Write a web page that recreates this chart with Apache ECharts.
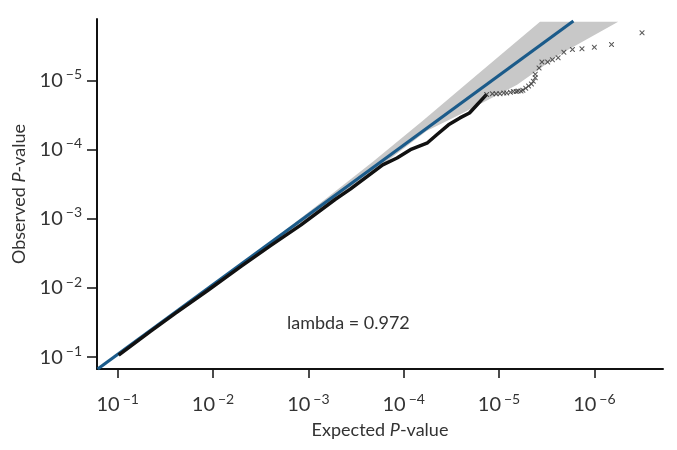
<!DOCTYPE html>
<html>
<head>
<meta charset="utf-8">
<script src="https://cdn.jsdelivr.net/npm/echarts@6/dist/echarts.min.js"></script>
<style>
html,body{margin:0;padding:0;background:#fff;}
#chart{width:677px;height:450px;}
</style>
</head>
<body>
<div id="chart"></div>
<script>
// -log10(P) values
const xTicks = [1, 2, 3, 4, 5, 6];
const yTicks = [1, 2, 3, 4, 5];

// identity (expected = observed) line
const lineX = [0.79, 5.78];
const lineY = [0.83, 5.86];

// confidence band edges
const bandUpperX = [2.6, 3.2, 3.68, 4.2, 4.68, 5.05, 5.43];
const bandUpperY = [2.67, 3.31, 3.83, 4.42, 4.98, 5.41, 5.85];
const bandLowerX = [6.25, 5.64, 5.19, 4.59, 4.24, 3.82, 3.2, 2.6];
const bandLowerY = [5.85, 5.38, 4.94, 4.51, 4.27, 3.83, 3.21, 2.62];

// dense part of observed values (drawn as thick line)
const curveX = [1.01, 1.34, 1.60, 1.94, 2.29, 2.60, 2.92, 3.28, 3.44, 3.78, 3.93, 4.07, 4.25, 4.35, 4.47, 4.59, 4.69, 4.77, 4.87];
const curveY = [1.03, 1.37, 1.63, 1.96, 2.31, 2.61, 2.91, 3.28, 3.43, 3.78, 3.88, 4.00, 4.10, 4.22, 4.36, 4.46, 4.53, 4.65, 4.80];

// individual observed points (x markers)
const plateauX = [4.87, 4.93, 4.97, 5.01, 5.05, 5.08, 5.12, 5.15, 5.18, 5.20, 5.23, 5.25, 5.28, 5.31, 5.34, 5.36, 5.38];
const plateauY = [4.80, 4.81, 4.81, 4.81, 4.82, 4.82, 4.83, 4.84, 4.84, 4.85, 4.85, 4.86, 4.89, 4.92, 4.95, 4.99, 5.04];
const tailX = [5.38, 5.42, 5.45, 5.51, 5.56, 5.62, 5.68, 5.77, 5.87, 6.00, 6.18, 6.50];
const tailY = [5.09, 5.18, 5.27, 5.27, 5.30, 5.33, 5.41, 5.45, 5.46, 5.48, 5.52, 5.69];

const lambdaText = 'lambda = 0.972';
const xName = ['Expected ', 'P', '-value'];
const yName = ['Observed ', 'P', '-value'];

const zip = (a, b) => a.map((v, i) => [v, b[i]]);
const bandPoly = zip(bandUpperX, bandUpperY).concat(zip(bandLowerX, bandLowerY));

const FONT = 'Lato';
const TXT = '#333';
const richLabel = {
  b: {fontSize: 20, fontFamily: FONT, color: TXT},
  s: {fontSize: 14, fontFamily: FONT, color: TXT, padding: [0, 0, 12, 3]}
};
const fmt = v => '{b|10}{s|\u2212' + v + '}';
const xMark = 'path://M0,0L1.5,0L5,3.5L8.5,0L10,0L10,1.5L6.5,5L10,8.5L10,10L8.5,10L5,6.5L1.5,10L0,10L0,8.5L3.5,5L0,1.5Z';

const chart = echarts.init(document.getElementById('chart'));
chart.setOption({
  backgroundColor: '#fff',
  animation: false,
  grid: {left: 97, right: 14, top: 19, bottom: 81, containLabel: false, outerBoundsMode: 'none'},
  xAxis: {
    type: 'value', min: 0.783, max: 6.72,
    axisLine: {onZero: false, lineStyle: {color: '#111', width: 2}},
    axisTick: {show: true, length: 9, customValues: xTicks, lineStyle: {color: '#111', width: 1.5}},
    axisLabel: {customValues: xTicks, formatter: fmt, rich: richLabel, margin: 23},
    splitLine: {show: false},
    name: '{a|' + xName[0] + '}{i|' + xName[1] + '}{a|' + xName[2] + '}',
    nameLocation: 'middle', nameGap: 52,
    nameTextStyle: {rich: {
      a: {fontSize: 18, fontFamily: FONT, color: TXT},
      i: {fontSize: 18, fontFamily: FONT, color: TXT, fontStyle: 'italic'}
    }}
  },
  yAxis: {
    type: 'value', min: 0.829, max: 5.89,
    axisLine: {onZero: false, lineStyle: {color: '#111', width: 2}},
    axisTick: {show: true, length: 10, customValues: yTicks, lineStyle: {color: '#111', width: 1.5}},
    axisLabel: {customValues: yTicks, formatter: fmt, rich: richLabel, margin: 15},
    splitLine: {show: false},
    name: '{a|' + yName[0] + '}{i|' + yName[1] + '}{a|' + yName[2] + '}',
    nameLocation: 'middle', nameGap: 64,
    nameTextStyle: {rich: {
      a: {fontSize: 18, fontFamily: FONT, color: TXT},
      i: {fontSize: 18, fontFamily: FONT, color: TXT, fontStyle: 'italic'}
    }}
  },
  graphic: [{
    type: 'text', left: 287, top: 314,
    style: {text: lambdaText, font: '18px ' + FONT, fill: TXT}
  }],
  series: [
    {
      type: 'custom', z: 1,
      data: [bandPoly[0]],
      renderItem: function (params, api) {
        return {
          type: 'polygon',
          shape: {points: bandPoly.map(p => api.coord(p))},
          style: {fill: '#c8c8c8'}
        };
      },
      silent: true
    },
    {
      type: 'line', z: 2, data: zip(lineX, lineY), showSymbol: false,
      lineStyle: {color: '#1b5b8a', width: 3.2}, silent: true
    },
    {
      type: 'line', z: 3, data: zip(curveX, curveY), showSymbol: false,
      lineStyle: {color: '#111', width: 3.5}, silent: true
    },
    {
      type: 'scatter', z: 4, data: zip(plateauX, plateauY), symbol: xMark, symbolSize: 5,
      itemStyle: {color: '#333'}, silent: true
    },
    {
      type: 'scatter', z: 4, data: zip(tailX, tailY), symbol: xMark, symbolSize: 5,
      itemStyle: {color: '#333'}, silent: true
    }
  ]
});
</script>
</body>
</html>
